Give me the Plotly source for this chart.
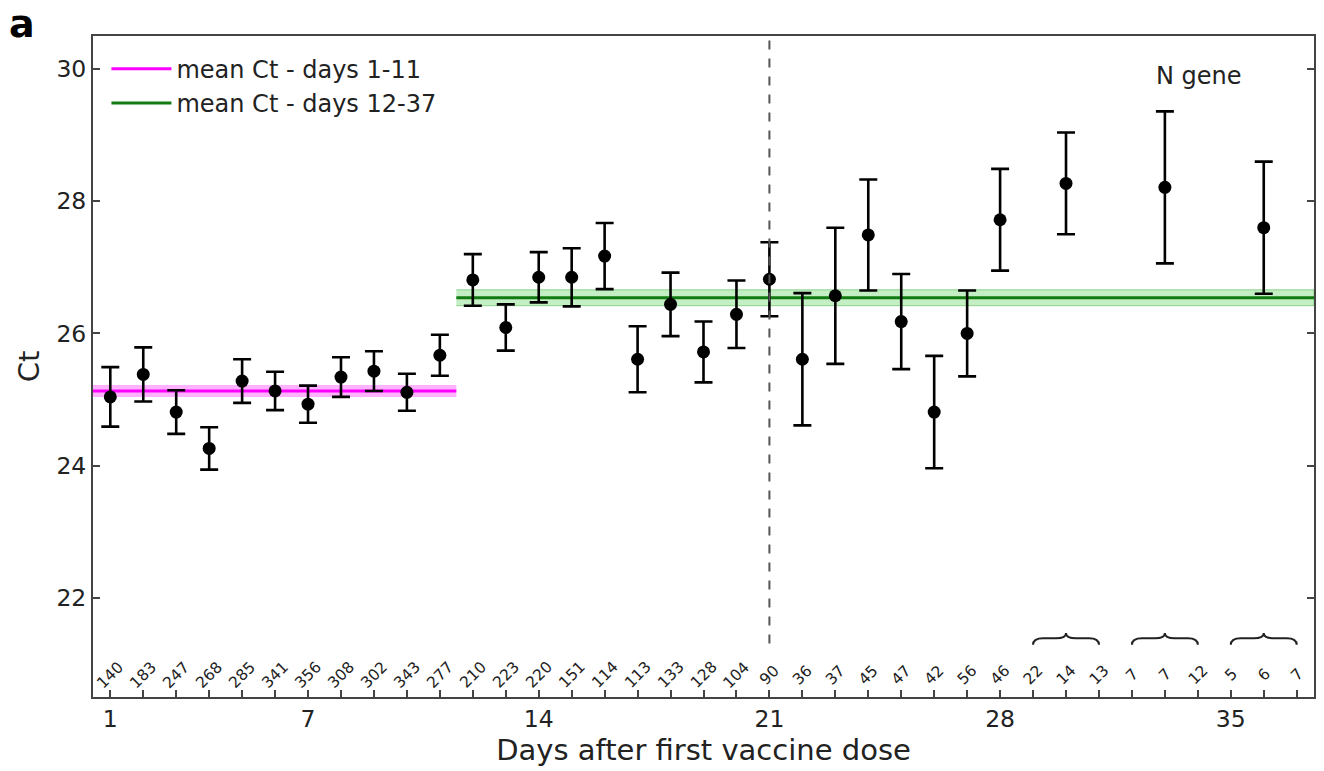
import plotly.graph_objects as go

# ---- data ----
days = [1, 2, 3, 4, 5, 6, 7, 8, 9, 10, 11, 12, 13, 14, 15, 16, 17, 18, 19, 20,
        21, 22, 23, 24, 25, 26, 27, 28, 30, 33, 36]
ct_mean = [25.04, 25.38, 24.81, 24.26, 25.28, 25.13, 24.93, 25.34, 25.43, 25.11,
           25.67, 26.81, 26.09, 26.85, 26.85, 27.17, 25.61, 26.44, 25.72, 26.29,
           26.82, 25.61, 26.57, 27.49, 26.18, 24.81, 26.00, 27.72, 28.27, 28.21, 27.60]
ct_err = [0.45, 0.41, 0.33, 0.32, 0.33, 0.29, 0.28, 0.30, 0.30, 0.28,
          0.31, 0.39, 0.35, 0.38, 0.44, 0.50, 0.50, 0.48, 0.46, 0.51,
          0.56, 1.00, 1.03, 0.84, 0.72, 0.85, 0.65, 0.77, 0.77, 1.15, 1.00]

count_days = list(range(1, 38))
counts = ["140", "183", "247", "268", "285", "341", "356", "308", "302", "343", "277",
          "210", "223", "220", "151", "114", "113", "133", "128", "104", "90",
          "36", "37", "45", "47", "42", "56", "46",
          "22", "14", "13", "7", "7", "12", "5", "6", "7"]

x_tick_vals = list(range(1, 38))
x_tick_labels = [str(d) if d in (1, 7, 14, 21, 28, 35) else "" for d in x_tick_vals]
y_tick_vals = [22, 24, 26, 28, 30]

mean_early = 25.13
band_early = 0.09
early_span = [0.475, 11.5]
mean_late = 26.54
band_late = 0.12
late_span = [11.5, 37.525]

pooled_groups = [(29, 31), (32, 34), (35, 37)]
second_dose_day = 21

FONT = "DejaVu Sans"
TXT = "#222222"

# plot-area geometry (px) used to place paper-referenced labels
L, R, T, B = 93, 8, 36, 74
W, H = 1324, 771
PW, PH = W - L - R, H - T - B

fig = go.Figure()

# bands
fig.add_trace(go.Scatter(
    x=[early_span[0], early_span[1], early_span[1], early_span[0]],
    y=[mean_early - band_early, mean_early - band_early, mean_early + band_early, mean_early + band_early],
    fill="toself", fillcolor="rgba(255,0,255,0.30)", line=dict(width=0),
    mode="lines", showlegend=False, hoverinfo="skip"))
fig.add_trace(go.Scatter(
    x=[late_span[0], late_span[1], late_span[1], late_span[0]],
    y=[mean_late - band_late, mean_late - band_late, mean_late + band_late, mean_late + band_late],
    fill="toself", fillcolor="rgba(60,200,60,0.30)", line=dict(width=1, color="rgba(60,180,60,0.5)"),
    mode="lines", showlegend=False, hoverinfo="skip"))

# mean lines
fig.add_trace(go.Scatter(
    x=early_span, y=[mean_early, mean_early], mode="lines",
    line=dict(color="#ff00ff", width=3), name="mean Ct - days 1-11"))
fig.add_trace(go.Scatter(
    x=late_span, y=[mean_late, mean_late], mode="lines",
    line=dict(color="#117a11", width=3), name="mean Ct - days 12-37"))

# data points
fig.add_trace(go.Scatter(
    x=days, y=ct_mean, mode="markers",
    marker=dict(color="black", size=13),
    error_y=dict(type="data", array=ct_err, color="black", thickness=2.6, width=9),
    showlegend=False))

# vertical dashed line at second dose
fig.add_shape(type="line", x0=second_dose_day, x1=second_dose_day, y0=21.31, y1=30.5,
              xref="x", yref="y", line=dict(color="#555555", width=2, dash="dash"))

# braces over pooled groups
yb_end, yb_h, yb_peak = 21.29, 21.39, 21.47
for a, b in pooled_groups:
    m = (a + b) / 2
    path = (f"M {a},{yb_end} Q {a},{yb_h} {a+0.3},{yb_h} L {m-0.3},{yb_h} "
            f"Q {m},{yb_h} {m},{yb_peak} Q {m},{yb_h} {m+0.3},{yb_h} "
            f"L {b-0.3},{yb_h} Q {b},{yb_h} {b},{yb_end}")
    fig.add_shape(type="path", path=path, xref="x", yref="y",
                  line=dict(color="#222222", width=2))

# count labels
for d, c in zip(count_days, counts):
    fig.add_annotation(x=d, y=20.84, xref="x", yref="y", text=c, showarrow=False,
                       textangle=-45, font=dict(family=FONT, size=15.5, color=TXT))

fig.add_annotation(x=34.03, y=29.9, xref="x", yref="y", text="N gene", showarrow=False,
                   font=dict(family=FONT, size=24, color=TXT))

fig.add_annotation(x=(7 - L) / PW, y=(H - B - 24) / PH, xref="paper", yref="paper",
                   text="<b>a</b>", showarrow=False, xanchor="left", yanchor="middle",
                   font=dict(family=FONT, size=38, color="black"))

axis_common = dict(showgrid=False, zeroline=False, ticks="inside", ticklen=7,
                   tickwidth=1.5, tickcolor="#444444", linecolor="#444444", linewidth=2,
                   tickfont=dict(family=FONT, size=23.5, color=TXT))

fig.update_xaxes(range=[0.475, 37.525], tickvals=x_tick_vals, ticktext=x_tick_labels,
                 mirror=True, title=dict(text="Days after first vaccine dose",
                                         font=dict(family=FONT, size=29, color=TXT),
                                         standoff=2),
                 **axis_common)
fig.update_yaxes(range=[20.5, 30.5], tickvals=y_tick_vals, mirror="ticks",
                 title=dict(text="Ct", font=dict(family=FONT, size=29, color=TXT),
                            standoff=8),
                 **axis_common)

fig.update_layout(
    width=W, height=H,
    margin=dict(l=L, r=R, t=T, b=B),
    plot_bgcolor="white", paper_bgcolor="white",
    font=dict(family=FONT, color=TXT),
    legend=dict(x=0.011, y=0.984, xanchor="left", yanchor="top",
                bgcolor="rgba(255,255,255,0)", font=dict(family=FONT, size=24, color=TXT),
                tracegroupgap=0, itemwidth=60),
)

fig.write_html("out.html")
